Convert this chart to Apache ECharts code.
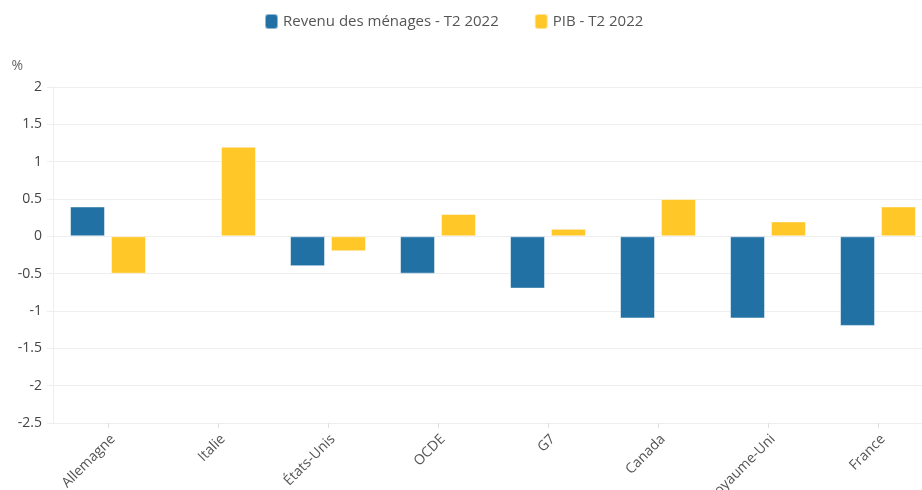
<!DOCTYPE html>
<html><head><meta charset="utf-8">
<script src="https://cdn.jsdelivr.net/npm/echarts@6/dist/echarts.min.js"></script>
<style>html,body{margin:0;padding:0;background:#fff}#c{width:922px;height:490px}</style>
</head><body><div id="c"></div>
<script>
const categories = ['Allemagne','Italie','États-Unis','OCDE','G7','Canada','Royaume-Uni','France'];
const revenu = [0.4, null, -0.4, -0.5, -0.7, -1.1, -1.1, -1.2];
const pib = [-0.5, 1.2, -0.2, 0.3, 0.1, 0.5, 0.2, 0.4];
const seriesNames = ['Revenu des ménages - T2 2022', 'PIB - T2 2022'];

const font = '"Open Sans", "Noto Sans", sans-serif';
const chart = echarts.init(document.getElementById('c'), null, {renderer:'canvas'});
chart.setOption({
  animation: false,
  textStyle: {fontFamily: font},
  color: ['#2171a4', '#ffc727'],
  legend: {
    top: 8, left: 259,
    itemWidth: 13, itemHeight: 15, itemGap: 35,
    icon: 'roundRect',
    textStyle: {fontFamily: font, fontSize: 15, color: '#555'},
    data: seriesNames
  },
  grid: {left: 53, right: -11, top: 87, bottom: 67, containLabel: false, outerBoundsMode: 'none'},
  xAxis: {
    type: 'category', data: categories,
    axisLine: {show: true, onZero: false, lineStyle: {color: '#eee'}},
    axisTick: {show: true, alignWithLabel: true, length: 5, lineStyle: {color: '#e0e0e0'}},
    axisLabel: {rotate: 45, color: '#555', fontSize: 14, fontFamily: font, margin: 9, interval: 0, verticalAlign: 'top'}
  },
  yAxis: {
    type: 'value', min: -2.5, max: 2, interval: 0.5,
    name: '%', nameLocation: 'end', nameGap: 14,
    nameTextStyle: {color: '#666', fontSize: 14, align: 'right', padding: [0, 30, 0, 0]},
    axisLine: {show: true, lineStyle: {color: '#eee'}},
    axisTick: {show: true, length: 6, lineStyle: {color: '#eee'}},
    splitLine: {lineStyle: {color: '#eee'}},
    axisLabel: {color: '#444', fontSize: 14, fontFamily: font, margin: 11}
  },
  series: [
    {name: seriesNames[0], type: 'bar', data: revenu, barWidth: 35, barGap: '17%',
     itemStyle: {borderColor: 'rgba(255,255,255,0.5)', borderWidth: 1}},
    {name: seriesNames[1], type: 'bar', data: pib, barWidth: 35, barGap: '17%',
     itemStyle: {borderColor: 'rgba(255,255,255,0.5)', borderWidth: 1}}
  ]
});
</script></body></html>
